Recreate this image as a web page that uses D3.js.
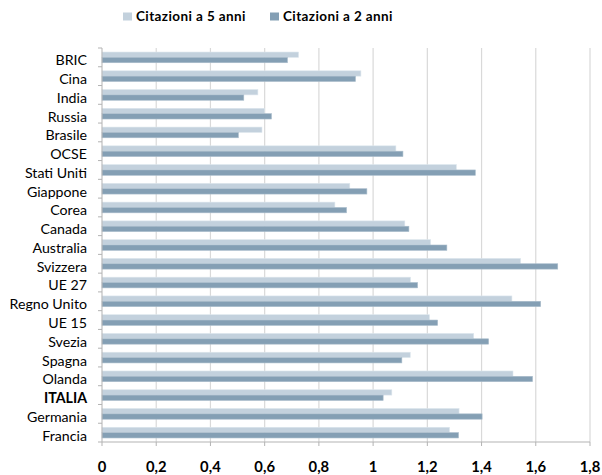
<!DOCTYPE html>
<html>
<head>
<meta charset="utf-8">
<script src="https://cdn.jsdelivr.net/npm/d3@7"></script>
<style>
  html, body { margin: 0; padding: 0; background: #fff; }
  svg { display: block; font-family: "Lato", "Open Sans", sans-serif; }
</style>
</head>
<body>
<svg id="chart" width="602" height="475"></svg>
<script>
// Categories, top to bottom
const categories = ["BRIC", "Cina", "India", "Russia", "Brasile", "OCSE", "Stati Uniti",
  "Giappone", "Corea", "Canada", "Australia", "Svizzera", "UE 27", "Regno Unito",
  "UE 15", "Svezia", "Spagna", "Olanda", "ITALIA", "Germania", "Francia"];

// Citation impact, 5-year window
const cit5 = [0.725, 0.955, 0.575, 0.60, 0.59, 1.084, 1.307,
  0.914, 0.859, 1.117, 1.212, 1.544, 1.138, 1.512,
  1.208, 1.371, 1.137, 1.516, 1.069, 1.317, 1.282];

// Citation impact, 2-year window
const cit2 = [0.684, 0.935, 0.523, 0.625, 0.503, 1.11, 1.377,
  0.977, 0.902, 1.132, 1.272, 1.681, 1.164, 1.618,
  1.238, 1.426, 1.106, 1.588, 1.037, 1.402, 1.315];

const seriesNames = ["Citazioni a 5 anni", "Citazioni a 2 anni"];
const seriesColors = ["#c3d1dd", "#849fb4"];
const xTicks = [0, 0.2, 0.4, 0.6, 0.8, 1, 1.2, 1.4, 1.6, 1.8];

const svg = d3.select("#chart");
const plot = { left: 102, right: 590, top: 48, bottom: 442 };

const x = d3.scaleLinear().domain([0, 1.8]).range([plot.left, plot.right]);
const y = d3.scaleBand().domain(categories).range([plot.top, plot.bottom])
  .paddingInner(0.43).paddingOuter(0.215);
const ySub = d3.scaleBand().domain([0, 1]).range([0, y.bandwidth()]);

// Vertical gridlines
svg.append("g").selectAll("line").data(xTicks.slice(1)).join("line")
  .attr("x1", d => x(d)).attr("x2", d => x(d))
  .attr("y1", plot.top).attr("y2", plot.bottom)
  .attr("stroke", "#d9d9d9").attr("stroke-width", 1.2);

// Bars
const rows = categories.map((c, i) => ({ c, v: [cit5[i], cit2[i]] }));
const g = svg.append("g");
rows.forEach(r => {
  r.v.forEach((v, k) => {
    g.append("rect")
      .attr("x", x(0))
      .attr("y", y(r.c) + ySub(k))
      .attr("width", x(v) - x(0))
      .attr("height", ySub.bandwidth())
      .attr("fill", seriesColors[k])
      .attr("stroke", k === 0 ? "#dde6ed" : "#a9bccb")
      .attr("stroke-width", 0.6);
  });
});

// Y axis: line, ticks at category boundaries, labels
const axisColor = "#b3b3b3";
svg.append("line").attr("x1", plot.left).attr("x2", plot.left)
  .attr("y1", plot.top).attr("y2", plot.bottom)
  .attr("stroke", axisColor).attr("stroke-width", 1);
const step = y.step();
svg.append("g").selectAll("line").data(d3.range(categories.length + 1)).join("line")
  .attr("x1", plot.left - 4).attr("x2", plot.left)
  .attr("y1", i => plot.top + i * step).attr("y2", i => plot.top + i * step)
  .attr("stroke", axisColor);
svg.append("g").selectAll("text").data(categories).join("text")
  .attr("x", 87)
  .attr("y", d => y(d) + y.bandwidth() / 2 + 3)
  .attr("dy", "0.35em")
  .attr("text-anchor", "end")
  .attr("font-size", 14.2)
  .attr("font-weight", d => d === "ITALIA" ? "bold" : "normal")
  .attr("fill", "#000")
  .text(d => d);

// X axis
svg.append("line").attr("x1", plot.left).attr("x2", plot.right)
  .attr("y1", plot.bottom).attr("y2", plot.bottom)
  .attr("stroke", axisColor).attr("stroke-width", 1.2);
svg.append("g").selectAll("line").data(xTicks).join("line")
  .attr("x1", d => x(d)).attr("x2", d => x(d))
  .attr("y1", plot.bottom).attr("y2", plot.bottom + 4)
  .attr("stroke", axisColor);
svg.append("g").selectAll("text").data(xTicks).join("text")
  .attr("x", d => x(d))
  .attr("y", 471.5)
  .attr("text-anchor", "middle")
  .attr("font-size", 14.8)
  .attr("font-weight", "bold")
  .attr("fill", "#000")
  .text(d => String(d).replace(".", ","));

// Legend
const legend = svg.append("g");
const legendX = [123, 270];
seriesNames.forEach((name, k) => {
  legend.append("rect").attr("x", legendX[k]).attr("y", 12.5)
    .attr("width", 9).attr("height", 8).attr("fill", seriesColors[k]);
  legend.append("text").attr("x", legendX[k] + 13).attr("y", 21)
    .attr("font-size", 13.5).attr("font-weight", "bold")
    .attr("letter-spacing", 0.4).attr("fill", "#000")
    .text(name);
});
</script>
</body>
</html>
